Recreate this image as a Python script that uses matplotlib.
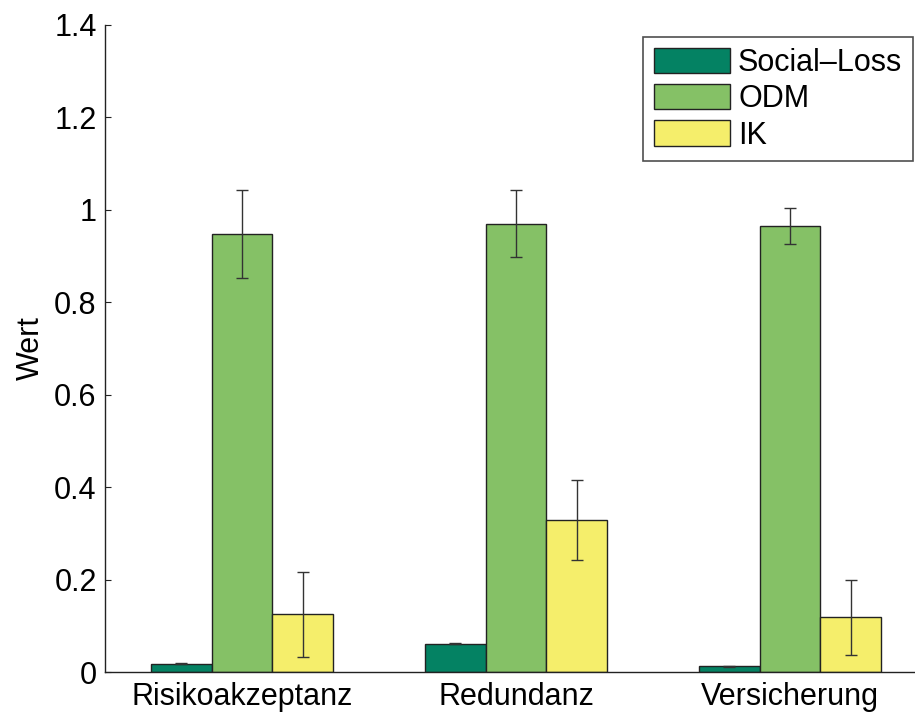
import matplotlib.pyplot as plt
import numpy as np

plt.rcParams['font.family'] = ['Liberation Sans', 'DejaVu Sans']

# data
categories = ["Risikoakzeptanz", "Redundanz", "Versicherung"]
series = ["Social\u2013Loss", "ODM", "IK"]
social_loss = [0.018, 0.061, 0.012]
social_loss_err = [0.001, 0.001, 0.001]
odm = [0.948, 0.970, 0.965]
odm_err = [0.095, 0.073, 0.039]
ik = [0.125, 0.329, 0.118]
ik_err = [0.092, 0.086, 0.081]
yticks = [0, 0.2, 0.4, 0.6, 0.8, 1.0, 1.2, 1.4]
ytick_labels = ["0", "0.2", "0.4", "0.6", "0.8", "1", "1.2", "1.4"]

colors = ["#048263", "#85c166", "#f5ee6b"]
fs = 22

fig = plt.figure(figsize=(9.15, 7.15), dpi=100)
# axes: left spine x=105, bottom y=672, top y=25, right edge beyond the image
ax = fig.add_axes([105 / 915, (715 - 672) / 715, (927 - 105) / 915, (672 - 25) / 715])

x = np.arange(1, len(categories) + 1)
w = 0.222
for i, (vals, errs) in enumerate([(social_loss, social_loss_err), (odm, odm_err), (ik, ik_err)]):
    pos = x + (i - 1) * w
    ax.bar(pos, vals, w, color=colors[i], edgecolor="#222222", linewidth=1.0,
           label=series[i], zorder=2)
    ax.errorbar(pos, vals, yerr=errs, fmt="none", ecolor="#333333",
                elinewidth=1.0, capsize=4, capthick=1.0, zorder=3)

ax.set_xlim(0.5, 3.5)
ax.set_ylim(0, 1.4)
ax.set_xticks(x)
ax.set_xticklabels(categories, fontsize=fs)
ax.set_yticks(yticks)
ax.set_yticklabels(ytick_labels, fontsize=fs)
ax.tick_params(axis="both", direction="in", length=4, width=0.8, color="#222222")
ax.tick_params(axis="x", length=0, pad=7)
ax.tick_params(axis="y", pad=6)
ax.spines["top"].set_visible(False)
ax.spines["right"].set_visible(False)
for s in ["left", "bottom"]:
    ax.spines[s].set_linewidth(1.0)
    ax.spines[s].set_color("#222222")
ax.set_ylabel("Wert", fontsize=fs, labelpad=6)

leg = ax.legend(loc="upper left", bbox_to_anchor=((643 - 105) / 822, (672 - 37) / 647),
                fontsize=fs, frameon=True, fancybox=False, edgecolor="#222222",
                handlelength=2.5, handleheight=0.9, handletextpad=0.26,
                borderpad=0.35, labelspacing=0.2, borderaxespad=0)
leg.get_frame().set_linewidth(1.2)

fig.savefig("out.png", dpi=100)
